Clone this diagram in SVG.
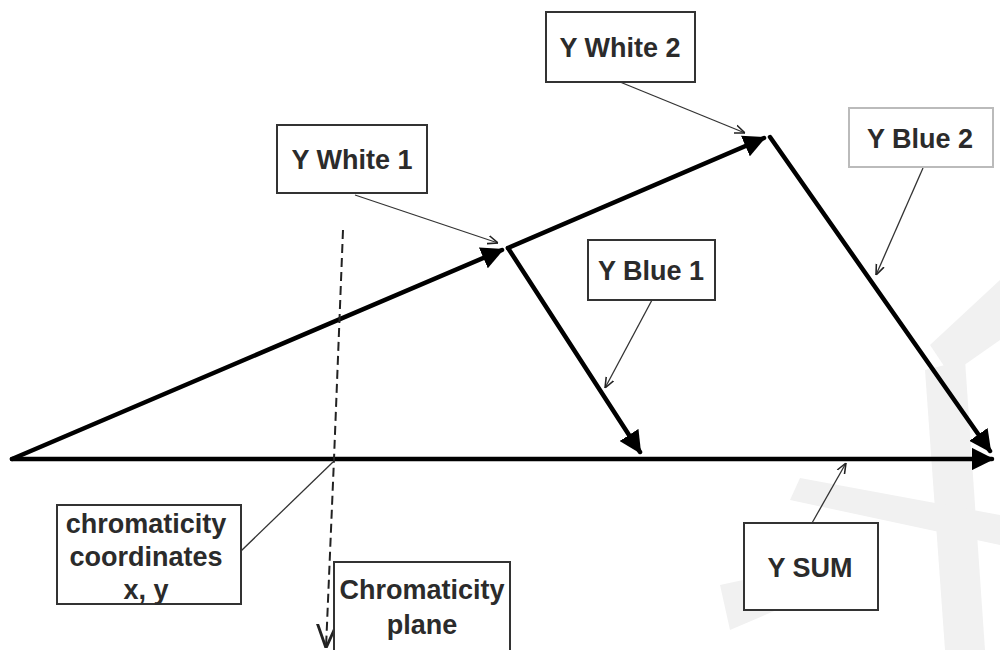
<svg xmlns="http://www.w3.org/2000/svg" width="1000" height="650" viewBox="0 0 1000 650">
<defs>
<marker id="big" viewBox="0 0 10 10" refX="9" refY="5" markerWidth="5" markerHeight="5" markerUnits="strokeWidth" orient="auto">
<path d="M0,0 L10,5 L0,10 z" fill="#000"/>
</marker>
<marker id="thin" viewBox="0 0 10 10" refX="10" refY="5" markerWidth="8" markerHeight="8" markerUnits="strokeWidth" orient="auto">
<path d="M0,1 L10,5 L0,9" fill="none" stroke="#222" stroke-width="1.5"/>
</marker>
<marker id="open" viewBox="0 0 10 10" refX="10" refY="5" markerWidth="12" markerHeight="12" markerUnits="strokeWidth" orient="auto">
<path d="M0,1 L10,5 L0,9" fill="none" stroke="#222" stroke-width="1.2"/>
</marker>
</defs>
<style>
.box{fill:#fff;stroke:#333;stroke-width:2}
.lbl{font-family:"Liberation Sans",Arial,sans-serif;font-weight:bold;font-size:27px;fill:#2b2b2b;text-anchor:middle}
.main{stroke:#000;stroke-width:4.5;fill:none;stroke-linecap:round}
.lead{stroke:#333;stroke-width:1.3;fill:none}
</style>
<rect width="1000" height="650" fill="#fff"/>
<g id="watermark" fill="#f1f1f1">
<polygon points="1000,280 1000,340 950,375 930,345"/>
<polygon points="925,370 965,360 985,650 945,650"/>
<polygon points="800,478 1000,515 1000,545 790,500"/>
<polygon points="720,585 790,570 800,600 730,630"/>
</g>
<g id="connectors">
<line class="main" x1="12" y1="459" x2="992" y2="459" marker-end="url(#big)"/>
<line class="main" x1="12" y1="459" x2="502" y2="250" marker-end="url(#big)"/>
<line class="main" x1="508" y1="248" x2="764" y2="138" marker-end="url(#big)"/>
<line class="main" x1="508" y1="248" x2="640" y2="452" marker-end="url(#big)"/>
<line class="main" x1="770" y1="137" x2="990" y2="451" marker-end="url(#big)"/>
<path d="M343,230 L334,459 L326,648" stroke="#222" stroke-width="2" stroke-dasharray="9,5" fill="none" marker-end="url(#open)"/>
<line class="lead" x1="620" y1="82" x2="745" y2="133" marker-end="url(#thin)"/>
<line class="lead" x1="355" y1="195" x2="498" y2="243" marker-end="url(#thin)"/>
<line class="lead" x1="923" y1="168" x2="876" y2="275" marker-end="url(#thin)"/>
<line class="lead" x1="652" y1="300" x2="605" y2="388" marker-end="url(#thin)"/>
<line class="lead" x1="812" y1="523" x2="846" y2="463" marker-end="url(#thin)"/>
<line class="lead" x1="241" y1="551" x2="333" y2="462"/>
</g>
<g id="n-white2"><rect class="box" x="546" y="12" width="149" height="70"/><text class="lbl" x="620" y="57">Y White 2</text></g>
<g id="n-white1"><rect class="box" x="277" y="125" width="150" height="68"/><text class="lbl" x="352" y="169">Y White 1</text></g>
<g id="n-blue2"><rect class="box" x="849" y="108" width="144" height="59" style="stroke:#bbb"/><text class="lbl" x="920" y="148">Y Blue 2</text></g>
<g id="n-blue1"><rect class="box" x="588" y="240" width="127" height="60"/><text class="lbl" x="651" y="280">Y Blue 1</text></g>
<g id="n-sum"><rect class="box" x="744" y="523" width="134" height="87"/><text class="lbl" x="810" y="577">Y SUM</text></g>
<g id="n-coords"><rect class="box" x="57" y="505" width="184" height="99"/>
<text class="lbl" x="146" y="533">chromaticity</text>
<text class="lbl" x="146" y="566">coordinates</text>
<text class="lbl" x="146" y="599">x, y</text></g>
<g id="n-plane"><rect class="box" x="334" y="562" width="176" height="92"/>
<text class="lbl" x="422" y="599">Chromaticity</text>
<text class="lbl" x="422" y="634">plane</text></g>
</svg>
